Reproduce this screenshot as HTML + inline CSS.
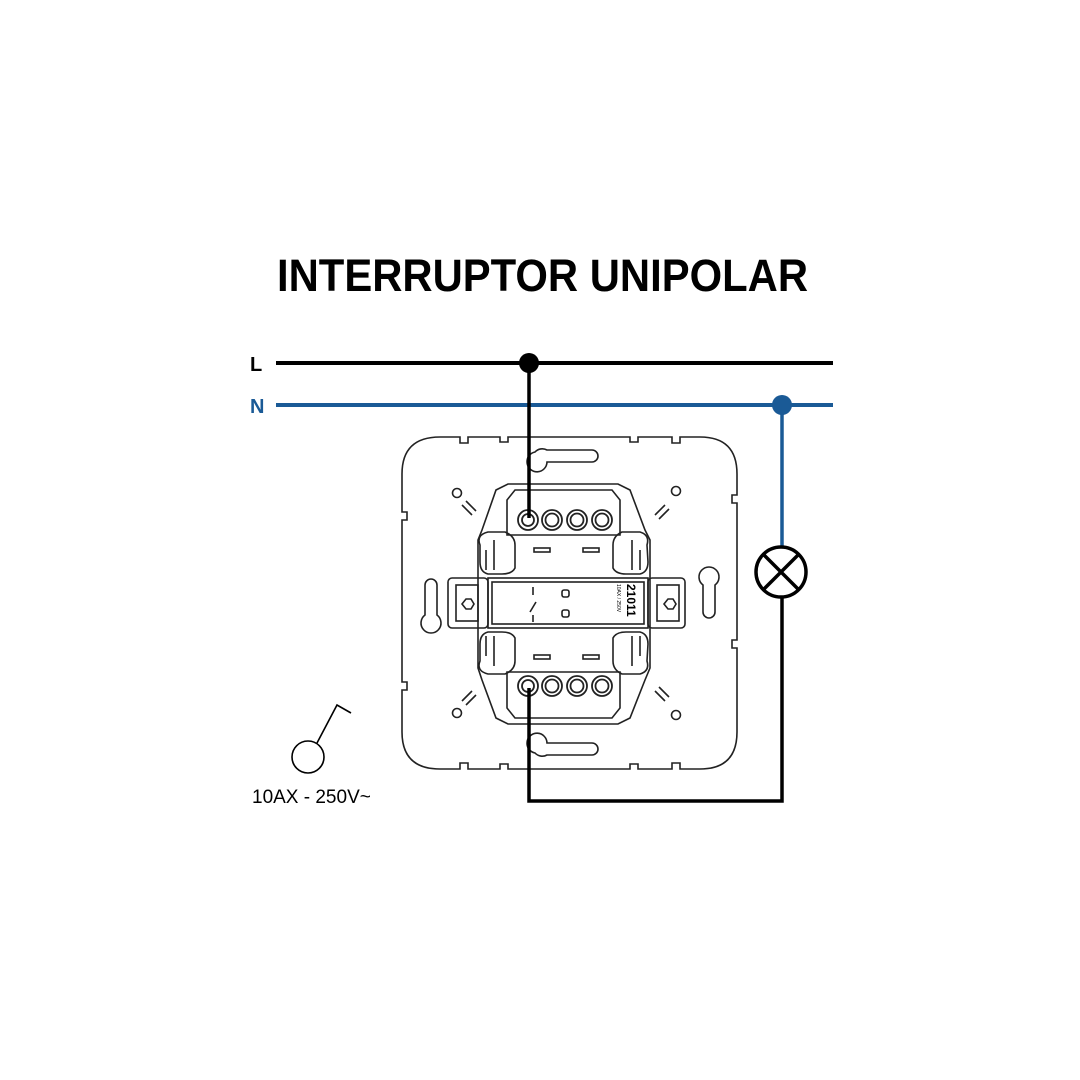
<!DOCTYPE html>
<html><head><meta charset="utf-8"><style>html,body{margin:0;padding:0;background:#fff}svg{display:block}</style></head><body>
<svg width="1080" height="1080" viewBox="0 0 1080 1080" xmlns="http://www.w3.org/2000/svg">
<rect width="1080" height="1080" fill="#fff"/>
<text x="277" y="291" font-family="Liberation Sans, sans-serif" font-weight="bold" font-size="45" textLength="531" lengthAdjust="spacingAndGlyphs" fill="#000">INTERRUPTOR UNIPOLAR</text>
<text x="250" y="371" font-family="Liberation Sans, sans-serif" font-weight="bold" font-size="20" fill="#000">L</text>
<text x="250" y="413" font-family="Liberation Sans, sans-serif" font-weight="bold" font-size="20" fill="#1a5a96">N</text>
<!-- plate -->
<g fill="none" stroke="#222" stroke-width="1.6">
<path d="M440 437 H460 v6 h8 v-6 H500 v5 h8 v-5 H630 v5 h8 v-5 H672 v6 h8 v-6 H700 Q737 437 737 474 V495 h-5 v8 h5 V640 h-5 v8 h5 V732 Q737 769 700 769 H680 v-6 h-8 v6 H638 v-5 h-8 v5 H508 v-5 h-8 v5 H468 v-6 h-8 v6 H440 Q402 769 402 732 V690 h5 v-8 h-5 V520 h5 v-8 h-5 V474 Q402 437 440 437 Z"/>
<path d="M535 452 a10 10 0 1 0 12 10 H592 a6 6 0 0 0 0 -12 H547 a10 10 0 0 0 -12 2z"/>
<path d="M535 753 a10 10 0 1 1 12 -10 H592 a6 6 0 0 1 0 12 H547 a10 10 0 0 1 -12 -2z"/>
<path d="M425 585 a6 6 0 0 1 12 0 V615 a10 10 0 1 1 -12 0z"/>
<path d="M703 585 a10 10 0 1 1 12 0 V612 a6 6 0 0 1 -12 0z"/>
<circle cx="457" cy="493" r="4.5"/><circle cx="676" cy="491" r="4.5"/>
<circle cx="457" cy="713" r="4.5"/><circle cx="676" cy="715" r="4.5"/>
<path d="M462 505 l10 10 M466 501 l10 10"/><path d="M665 505 l-10 10 M669 509 l-10 10"/>
<path d="M462 701 l10 -10 M466 705 l10 -10"/><path d="M665 701 l-10 -10 M669 697 l-10 -10"/>
<!-- body -->
<path d="M508 484 H618 L630 490 L645 530 L650 540 V668 L645 680 L630 718 L618 724 H508 L496 718 L482 680 L478 668 V540 L482 530 L496 490 Z"/>
<path d="M515 490 H612 L620 500 V535 H507 V500 Z"/>
<path d="M515 718 H612 L620 708 V672 H507 V708 Z"/>
<rect x="534" y="548" width="16" height="4"/><rect x="583" y="548" width="16" height="4"/>
<rect x="534" y="655" width="16" height="4"/><rect x="583" y="655" width="16" height="4"/>
<rect x="488" y="578" width="160" height="50"/>
<rect x="492" y="582" width="152" height="42"/>
<rect x="448" y="578" width="40" height="50" rx="4"/>
<rect x="648" y="578" width="37" height="50" rx="4"/>
<rect x="456" y="585" width="22" height="36"/><rect x="657" y="585" width="22" height="36"/>
<path d="M462 604 l4 -5 h5 l3 5 l-3 5 h-5z M664 604 l4 -5 h5 l3 5 l-3 5 h-5z"/>
<rect x="562" y="590" width="7" height="7" rx="2"/><rect x="562" y="610" width="7" height="7" rx="2"/>
<path d="M533 587 V595 M530 612 l6 -10 M533 615 V622"/>
<path d="M480 545 Q476 535 488 532 H505 Q515 536 515 545 V568 Q512 574 502 574 H488 Q480 572 480 562Z"/>
<path d="M486 550 V570 M494 540 V570"/>
<path d="M647 545 Q650 535 640 532 H622 Q613 536 613 545 V568 Q616 574 626 574 H640 Q648 572 648 562Z"/>
<path d="M640 550 V570 M632 540 V570"/>
<path d="M480 661 Q476 671 488 674 H505 Q515 670 515 661 V638 Q512 632 502 632 H488 Q480 634 480 644Z"/>
<path d="M486 656 V636 M494 666 V636"/>
<path d="M647 661 Q650 671 640 674 H622 Q613 670 613 661 V638 Q616 632 626 632 H640 Q648 634 648 644Z"/>
<path d="M640 656 V636 M632 666 V636"/>
</g>
<g fill="none" stroke="#222" stroke-width="1.8">
<circle cx="528" cy="520" r="10"/><circle cx="528" cy="520" r="6"/>
<circle cx="552" cy="520" r="10"/><circle cx="552" cy="520" r="6.5"/>
<circle cx="577" cy="520" r="10"/><circle cx="577" cy="520" r="6.5"/>
<circle cx="602" cy="520" r="10"/><circle cx="602" cy="520" r="6.5"/>
<circle cx="528" cy="686" r="10"/><circle cx="528" cy="686" r="6"/>
<circle cx="552" cy="686" r="10"/><circle cx="552" cy="686" r="6.5"/>
<circle cx="577" cy="686" r="10"/><circle cx="577" cy="686" r="6.5"/>
<circle cx="602" cy="686" r="10"/><circle cx="602" cy="686" r="6.5"/>
</g>
<text transform="translate(627,584) rotate(90)" font-family="Liberation Sans, sans-serif" font-weight="bold" font-size="12" fill="#000">21011</text>
<text transform="translate(617,584) rotate(90)" font-family="Liberation Sans, sans-serif" font-size="5" fill="#000">10AX / 250V</text>
<!-- wires -->
<line x1="276" y1="405" x2="833" y2="405" stroke="#1a5a96" stroke-width="4"/>
<line x1="276" y1="363" x2="833" y2="363" stroke="#000" stroke-width="4"/>
<line x1="529" y1="363" x2="529" y2="518" stroke="#000" stroke-width="3.5"/>
<circle cx="529" cy="363" r="10" fill="#000"/>
<line x1="782" y1="405" x2="782" y2="547" stroke="#1a5a96" stroke-width="3.5"/>
<circle cx="782" cy="405" r="10" fill="#1a5a96"/>
<polyline points="529,688 529,801 782,801 782,597" fill="none" stroke="#000" stroke-width="3.5"/>
<circle cx="781" cy="572" r="25" fill="none" stroke="#000" stroke-width="3.5"/>
<path d="M763 554 L799 590 M799 554 L763 590" stroke="#000" stroke-width="3.5"/>
<!-- symbol -->
<circle cx="308" cy="757" r="16" fill="none" stroke="#000" stroke-width="1.6"/>
<path d="M317 743 L337 705 L351 713" fill="none" stroke="#000" stroke-width="1.6"/>
<text x="252" y="803" font-family="Liberation Sans, sans-serif" font-size="19" fill="#000">10AX - 250V~</text>
</svg>
</body></html>
